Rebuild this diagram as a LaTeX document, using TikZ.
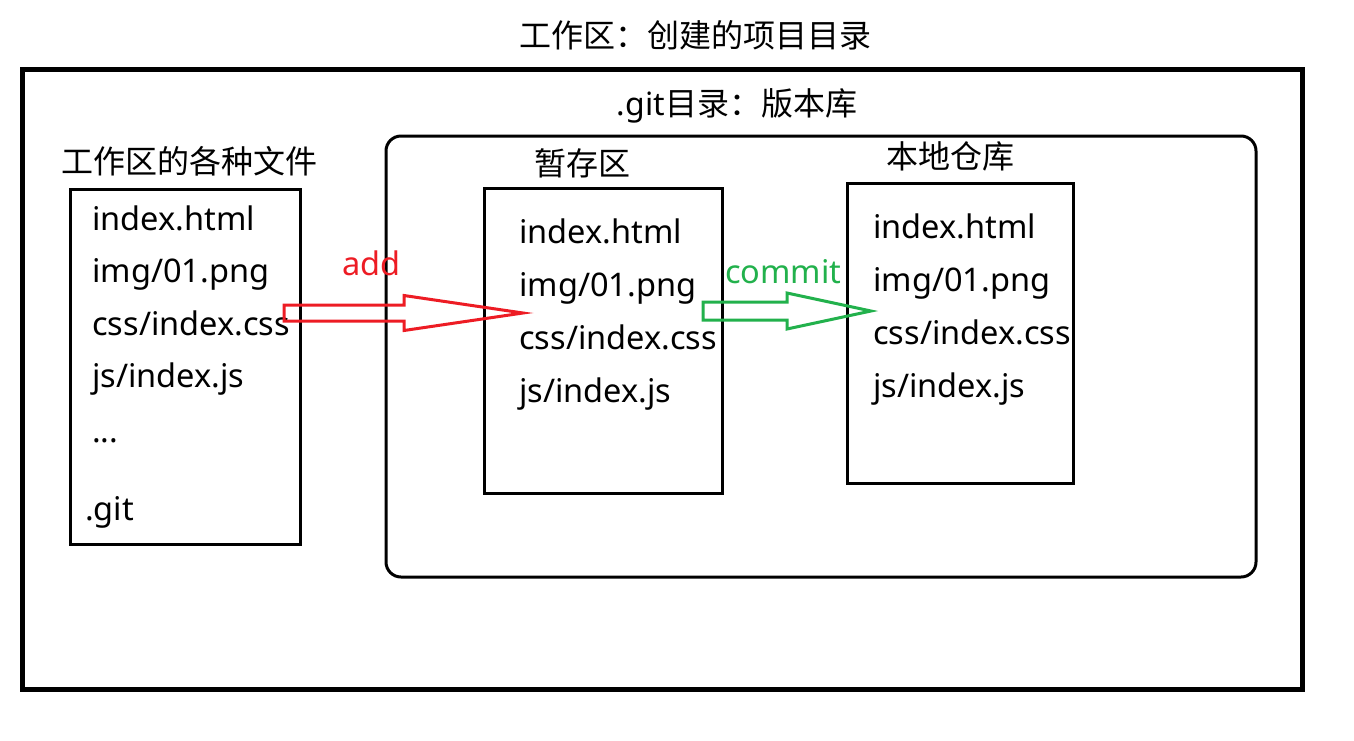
\documentclass[tikz,border=0pt]{standalone}
\usepackage{fontspec}
\setmainfont{Noto Sans}
\newfontfamily\cjk{Noto Sans CJK SC}
\usetikzlibrary{calc}
\definecolor{addred}{HTML}{ED1C24}
\definecolor{commitgreen}{HTML}{22B14C}
\tikzset{
  txt/.style={inner sep=0pt,anchor=base west,font=\fontsize{24.4pt}{28pt}\selectfont},
  zhtxt/.style={txt,font=\fontsize{24pt}{28pt}\selectfont\cjk},
  box/.style={line width=2.25pt},
  blockarrow/.style={line width=2.25pt,line join=miter}
}
\begin{document}
\begin{tikzpicture}[x=0.75pt,y=-0.75pt]
\useasboundingbox (0,0) rectangle (1354,740);
% frames
\draw [line width=3.75pt] (22.5,69.5) rectangle (1302,689.5);
\draw [box,rounded corners=11.25pt] (386,136) rectangle (1256,577);
\draw [box] (70.5,189.5) rectangle (300.5,544.5);
\draw [box] (484,188) rectangle (722,493);
\draw [box] (847,183) rectangle (1073,483);
% titles
\node [zhtxt,anchor=base] (title) at (695,47.5) {工作区：创建的项目目录};
\node [txt,anchor=base,font=\fontsize{24pt}{28pt}\selectfont] (gitdir) at (737,115) {.git{\cjk 目录：版本库}};
\node [zhtxt] (worklbl) at (61,173.5) {工作区的各种文件};
\node [zhtxt] (stagelbl) at (534,175.5) {暂存区};
\node [zhtxt] (repolbl) at (886,168.5) {本地仓库};
% file lists
\foreach \f [count=\i] in {index.html,img/01.png,css/index.css,js/index.js} {
  \node [txt] (w\i) at (92,{230+52.5*(\i-1)}) {\f};
  \node [txt] (s\i) at (519,{243+53*(\i-1)}) {\f};
  \node [txt] (r\i) at (873,{238+53*(\i-1)}) {\f};
}
\node [txt] (wdots) at (92,442) {...};
\node [txt] (wgit) at (85,520) {.git};
% add / commit
\coordinate (addfrom) at (284,313);
\coordinate (addto) at (523,313);
\coordinate (commitfrom) at (703,311);
\coordinate (committo) at (871,311);
\draw [blockarrow,addred] ($(addfrom)+(0,-8)$) -- ($(addto)+(-119,-8)$) -- ($(addto)+(-119,-17.5)$)
  -- (addto) -- ($(addto)+(-119,17.5)$) -- ($(addto)+(-119,8)$) -- ($(addfrom)+(0,8)$) -- cycle;
\draw [blockarrow,commitgreen] ($(commitfrom)+(0,-9)$) -- ($(committo)+(-84,-9)$) -- ($(committo)+(-84,-18)$)
  -- (committo) -- ($(committo)+(-84,18)$) -- ($(committo)+(-84,9)$) -- ($(commitfrom)+(0,9)$) -- cycle;
\node [txt,addred] (addlbl) at (342,275) {add};
\node [txt,commitgreen] (commitlbl) at (725,283) {commit};
\end{tikzpicture}
\end{document}
